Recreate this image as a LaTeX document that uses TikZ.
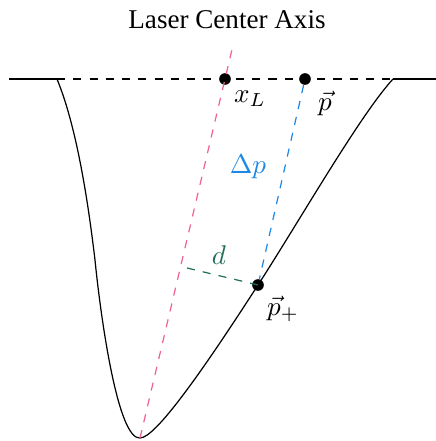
\documentclass[tikz,border=0pt]{standalone}
\usepackage{fontspec}
\setmainfont{Liberation Serif}
\usetikzlibrary{calc}
\definecolor{laserpink}{RGB}{240,98,146}
\definecolor{pblue}{RGB}{30,136,229}
\definecolor{dgreen}{RGB}{35,110,90}
\begin{document}
\begin{tikzpicture}[x=0.369pt,y=-0.369pt,
  dot/.style={circle,fill=black,inner sep=0pt,minimum size=4.3pt},
  lbl/.style={inner sep=0pt},
  surf/.style={line width=0.45pt,black},
  axisline/.style={dashed,laserpink,line width=0.45pt},
  pline/.style={dashed,pblue,line width=0.45pt},
  dline/.style={dashed,dgreen,line width=0.45pt},
  topline/.style={dashed,line width=0.45pt}]
\useasboundingbox (0,0) rectangle (436,441);
% coordinates
\coordinate (L0) at (9,79);
\coordinate (L1) at (57,79);
\coordinate (R1) at (393,79);
\coordinate (R0) at (436,79);
\coordinate (bot) at (140,438);
\coordinate (dend) at (187,268);
% nodes
\node[dot] (xL) at (225,79) {};
\node[dot] (p) at (305,79) {};
\node[dot] (pp) at (258,285) {};
% surface profile
\draw[surf] (L0) -- (L1);
\draw[surf] (R1) -- (R0);
\draw[surf] (L1) .. controls (78,130) and (89,210) .. (95,260)
  .. controls (101,320) and (118,440) .. (bot)
  .. controls (155,438) and (200,375) .. (pp.center)
  .. controls (300,220) and (360,115) .. (R1);
\draw[topline] (L1) -- (R1);
% lines
\draw[axisline] (bot) -- ($(bot)!1.1!(xL)$) coordinate (axtop);
\draw[pline] (p) -- (pp);
\draw[dline] (pp.center) -- (dend);
% labels
\node[lbl] (title) at (227,20) {Laser Center Axis};
\node[lbl] (lxL) at (250,99) {$x_L$};
\node[lbl] (lp) at (325,103) {$\vec{p}$};
\node[lbl,text=pblue] (ldp) at (248,167) {$\Delta p$};
\node[lbl,text=dgreen] (ld) at (219,255) {$d$};
\node[lbl] (lpp) at (283,309) {$\vec{p}_+$};
\end{tikzpicture}
\end{document}
